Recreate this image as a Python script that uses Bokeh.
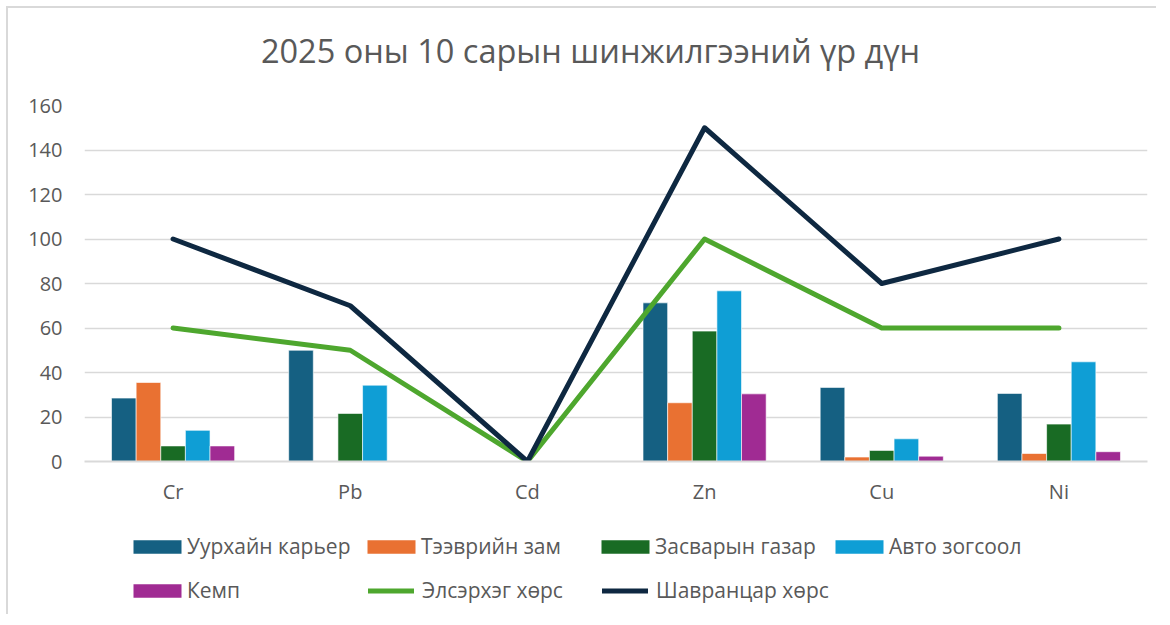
from bokeh.plotting import figure
from bokeh.layouts import column
from bokeh.models import (Range1d, FactorRange, FixedTicker, Legend, LegendItem, Label)
from bokeh.transform import dodge
from bokeh.embed import file_html
from bokeh.resources import INLINE

# ---- data ----
categories = ["Cr", "Pb", "Cd", "Zn", "Cu", "Ni"]
bar_series = ["Уурхайн карьер", "Тээврийн зам", "Засварын газар", "Авто зогсоол", "Кемп"]
uurhain_karier = [28.5, 50, 0, 71.3, 33.3, 30.6]
teevriin_zam = [35.5, 0, 0, 26.4, 2.0, 3.6]
zasvaryn_gazar = [7.0, 21.6, 0, 58.6, 5.0, 16.8]
avto_zogsool = [14.0, 34.3, 0, 76.7, 10.2, 44.8]
kemp = [7.0, 0, 0, 30.4, 2.4, 4.4]
line_series = ["Элсэрхэг хөрс", "Шавранцар хөрс"]
elserheg_hors = [60, 50, 0, 100, 60, 60]
shavrantsar_hors = [100, 70, 0, 150, 80, 100]
y_ticks = [0, 20, 40, 60, 80, 100, 120, 140, 160]
title_text = "2025 оны 10 сарын шинжилгээний үр дүн"

bar_colors = ["#156082", "#E97132", "#196B24", "#0F9ED5", "#A02B93"]
line_colors = ["#4EA72E", "#0E2841"]
FONT = "Open Sans"
TXT = "#595959"
GRID = "#D9D9D9"
W = 1150
BORDER = "2px solid #D9D9D9"


def blank_fig(height):
    f = figure(width=W, height=height, x_range=Range1d(0, 1), y_range=Range1d(0, 1),
               output_backend="svg", toolbar_location=None,
               x_axis_location=None, y_axis_location=None,
               min_border_left=0, min_border_right=0, min_border_top=0, min_border_bottom=0,
               background_fill_color="white", border_fill_color="white")
    f.grid.visible = False
    f.outline_line_color = None
    return f


# ---- title strip ----
tfig = blank_fig(84)
tfig.styles = {"margin-left": "6px", "margin-top": "6px",
               "border-top": BORDER, "border-left": BORDER}
tfig.add_layout(Label(x=506, y=42, x_units="screen", y_units="screen", text=title_text,
                      text_align="center", text_baseline="middle", text_font=FONT,
                      text_font_size="32.5px", text_color=TXT))

# ---- chart ----
p = figure(width=W, height=426, x_range=FactorRange(*categories, range_padding=0),
           y_range=Range1d(0, 160), output_backend="svg", toolbar_location=None,
           min_border_left=76, min_border_right=11, min_border_top=15, min_border_bottom=55,
           background_fill_color="white", border_fill_color="white")
p.styles = {"margin-left": "6px", "border-left": BORDER}
p.outline_line_color = None

p.yaxis.ticker = FixedTicker(ticks=y_ticks)
p.yaxis.axis_line_color = None
p.yaxis.major_tick_line_color = None
p.yaxis.minor_tick_line_color = None
p.yaxis.major_label_text_font = FONT
p.yaxis.major_label_text_font_size = "20px"
p.yaxis.major_label_text_color = TXT
p.yaxis.major_label_standoff = 16

p.xaxis.axis_line_color = GRID
p.xaxis.axis_line_width = 2
p.xaxis.major_tick_line_color = None
p.xaxis.minor_tick_line_color = None
p.xaxis.major_label_text_font = FONT
p.xaxis.major_label_text_font_size = "20px"
p.xaxis.major_label_text_color = TXT
p.xaxis.major_label_standoff = 10

p.xgrid.grid_line_color = None
p.ygrid.grid_line_color = GRID
p.ygrid.grid_line_width = 1.5

data = dict(cat=categories)
bar_values = [uurhain_karier, teevriin_zam, zasvaryn_gazar, avto_zogsool, kemp]
for i, vals in enumerate(bar_values):
    data["b%d" % i] = vals

bw = 0.139
for i, name in enumerate(bar_series):
    off = (i - 2) * bw
    p.vbar(x=dodge("cat", off, range=p.x_range), top="b%d" % i, width=bw, source=data,
           fill_color=bar_colors[i], line_color="white", line_width=1, line_alpha=0.6)

for vals, col in zip([elserheg_hors, shavrantsar_hors], line_colors):
    p.line(x=categories, y=vals, line_color=col, line_width=5,
           line_cap="round", line_join="round")

# ---- legend strip (swatch renderers sit outside the visible range) ----
lfig = blank_fig(98)
lfig.styles = {"margin-left": "6px", "border-left": BORDER}
bar_items = []
for name, col in zip(bar_series, bar_colors):
    r = lfig.vbar(x=[-5], top=[-5], bottom=[-6], width=0.1, fill_color=col, line_color=None)
    bar_items.append(LegendItem(label=name, renderers=[r]))
line_items = []
for name, col in zip(line_series, line_colors):
    r = lfig.line(x=[-5, -4], y=[-5, -5], line_color=col, line_width=5, line_cap="round")
    line_items.append(LegendItem(label=name, renderers=[r]))

common = dict(orientation="horizontal", label_height=44, spacing=0, padding=0, margin=0,
              border_line_color=None, background_fill_alpha=0,
              label_text_font=FONT, label_text_font_size="21px", label_text_color=TXT)
bar_style = dict(glyph_width=60, glyph_height=17, label_standoff=0, label_width=174)

leg_row1 = Legend(items=bar_items[:4], ncols=4, location=(43, 46), **bar_style, **common)
leg_kemp = Legend(items=bar_items[4:], ncols=1, location=(43, 2), **bar_style, **common)
leg_lines = Legend(items=line_items, ncols=2, location=(284, 2), glyph_width=46,
                   glyph_height=17, label_standoff=8, label_width=180, **common)
for lg in (leg_row1, leg_kemp, leg_lines):
    lfig.add_layout(lg, "center")

layout = column(tfig, p, lfig, spacing=0)
open("out.html", "w").write(file_html(layout, INLINE))
